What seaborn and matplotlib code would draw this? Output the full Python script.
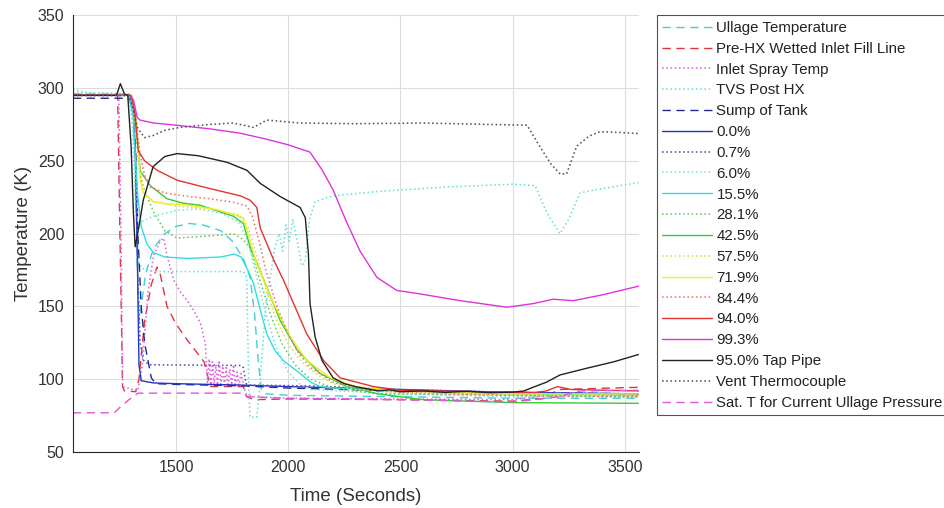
import matplotlib
matplotlib.use("Agg")
import matplotlib.pyplot as plt
import seaborn as sns

# ---- time (s) / temperature (K) traces ----
t_ullage = [1040, 1290, 1310, 1320, 1328, 1335, 1345, 1365, 1400, 1450, 1500, 1560, 1620, 1700, 1750, 1800, 1830, 1850, 1865, 1880, 1900, 2000, 2500, 3000, 3560]
T_ullage = [296, 296, 285, 240, 180, 140, 150, 173, 190, 200, 205, 207, 206, 202, 195, 183, 170, 145, 115, 93, 90, 89, 88, 87, 87]

t_prehx = [1040, 1240, 1250, 1262, 1270, 1320, 1335, 1360, 1390, 1415, 1430, 1460, 1500, 1550, 1600, 1625, 1645, 1655, 1800, 1815, 1850, 2000, 2500, 3000, 3150, 3200, 3560]
T_prehx = [295, 295, 200, 95, 92, 91.5, 100, 140, 165, 177, 172, 150, 138, 127, 117, 112, 100, 95, 95, 88, 86, 86.5, 86, 85, 87, 93, 94.5]

t_spray = [1040, 1245, 1255, 1262, 1330, 1350, 1375, 1400, 1430, 1445, 1460, 1490, 1520, 1550, 1580, 1610, 1630,
           1640, 1648, 1655, 1662, 1670, 1678, 1685, 1693, 1700, 1708, 1716, 1724, 1732, 1740, 1748, 1756, 1764, 1772, 1780, 1790,
           1810, 1850, 2000, 2500, 3000, 3150, 3200, 3250, 3560]
T_spray = [295.5, 295.5, 200, 95, 92, 110, 160, 185, 195, 197, 185, 168, 160, 154, 147, 138, 125,
           98, 114, 96, 112, 97, 110, 96, 113, 95, 109, 96, 108, 95, 107, 96, 110, 95, 105, 96, 104,
           90, 88, 87, 86.5, 86, 89, 87, 90, 89]

t_tvs = [1040, 1100, 1290, 1305, 1320, 1335, 1350, 1400, 1800, 1815, 1825, 1830, 1860, 1870, 1900, 1940, 1960, 1975, 1990, 2005, 2020, 2040, 2060, 2075, 2095, 2120, 2200, 2400, 2700, 3000, 3100, 3150, 3210, 3250, 3300, 3400, 3560]
T_tvs = [299, 297, 296, 280, 220, 180, 176, 174, 174, 170, 90, 74, 74, 90, 150, 190, 200, 188, 206, 195, 210, 195, 178, 180, 210, 222, 226, 229, 232, 234, 233, 215, 200, 210, 228, 231, 235]

t_sump = [1040, 1290, 1312, 1322, 1330, 1345, 1360, 1375, 1390, 1410, 1500, 1800, 2000, 2500, 3000, 3560]
T_sump = [293, 293, 283, 250, 200, 150, 125, 113, 101, 97, 96.5, 95.5, 94, 92, 91, 90]

t_p000 = [1040, 1290, 1310, 1320, 1328, 1335, 1345, 1400, 1500, 1800, 2000, 2500, 3000, 3560]
T_p000 = [295, 295, 285, 250, 180, 110, 99, 97.5, 97, 96, 95, 93, 91, 90]

t_p007 = [1040, 1290, 1310, 1322, 1330, 1340, 1355, 1380, 1790, 1800, 1812, 1830, 2100, 2500, 3000, 3560]
T_p007 = [295, 295, 283, 240, 170, 125, 113, 110, 109.5, 108, 97, 96, 95.5, 93, 91, 90]

t_p060 = [1040, 1290, 1310, 1330, 1345, 1400, 1500, 1600, 1700, 1780, 1820, 1860, 1900, 1950, 2000, 2050, 2100, 2500, 3000, 3560]
T_p060 = [297, 296, 270, 215, 208, 212, 216, 217, 214, 208, 195, 170, 145, 120, 105, 97, 93, 90, 88, 88]

t_p155 = [1040, 1290, 1310, 1320, 1330, 1345, 1370, 1400, 1450, 1550, 1700, 1760, 1790, 1820, 1845, 1880, 1905, 1940, 1977, 2053, 2100, 2142, 2200, 2500, 3000, 3560]
T_p155 = [295, 295, 280, 250, 225, 205, 193, 187, 184, 183, 184, 186, 184, 175, 166, 145, 131, 120, 113, 104, 98, 95, 94, 92, 90, 89]

t_p281 = [1040, 1300, 1320, 1340, 1354, 1400, 1450, 1505, 1600, 1700, 1755, 1800, 1830, 1870, 1920, 1970, 2030, 2100, 2200, 2400, 3000, 3560]
T_p281 = [295, 295, 270, 240, 232, 215, 202, 197, 198, 199, 200, 196, 190, 170, 145, 125, 110, 100, 94, 90, 89, 88]

t_p425 = [1040, 1295, 1312, 1325, 1335, 1341, 1385, 1460, 1530, 1608, 1755, 1800, 1830, 1905, 1965, 2040, 2142, 2262, 2400, 2600, 3000, 3560]
T_p425 = [295, 295, 288, 270, 252, 243, 233, 224, 221, 219.5, 212, 207, 191, 163, 140, 120, 104, 95, 90, 86, 84, 83.5]

t_p575 = [1040, 1300, 1320, 1340, 1360, 1400, 1500, 1650, 1780, 1820, 1860, 1900, 1950, 2000, 2060, 2120, 2200, 2300, 2500, 3000, 3560]
T_p575 = [295, 295, 275, 245, 228, 222, 219, 217, 213, 205, 185, 162, 140, 124, 112, 104, 97, 93, 91, 89, 89]

t_p719 = [1040, 1300, 1318, 1332, 1340, 1354, 1398, 1460, 1532, 1683, 1760, 1800, 1860, 1935, 2010, 2083, 2187, 2300, 2500, 3000, 3560]
T_p719 = [295, 295, 285, 260, 237, 228, 222, 220.5, 220, 216.5, 213, 211, 179, 152, 129, 113, 101, 95, 92, 90, 90]

t_p844 = [1040, 1300, 1320, 1340, 1360, 1385, 1450, 1532, 1650, 1755, 1816, 1840, 1870, 1900, 1950, 2000, 2050, 2100, 2200, 2300, 2500, 3000, 3560]
T_p844 = [295, 295, 280, 255, 240, 232, 228, 226, 224, 221.6, 219, 212, 195, 175, 150, 131, 117, 108, 98, 94, 91, 89, 88]

t_p940 = [1040, 1300, 1315, 1332, 1360, 1416, 1505, 1650, 1786, 1830, 1860, 1875, 1935, 1979, 2024, 2083, 2157, 2231, 2380, 2500, 3000, 3100, 3150, 3200, 3260, 3560]
T_p940 = [295, 295, 285, 257, 250, 243.5, 236.7, 231, 226, 223, 218, 204, 182, 168, 152, 131, 113, 101, 95, 92.5, 91, 91, 92, 95, 93, 92]

t_p993 = [1040, 1290, 1310, 1327, 1340, 1400, 1500, 1650, 1786, 1900, 2000, 2097, 2150, 2200, 2260, 2320, 2395, 2484, 2573, 2766, 2974, 3092, 3181, 3270, 3400, 3562]
T_p993 = [295, 295, 292, 280, 278, 276, 274.5, 272, 269, 265, 261, 256, 244, 230, 208, 188, 170, 161, 159, 154, 149.5, 152, 155, 154, 158, 164]

t_tap = [1040, 1235, 1252, 1270, 1285, 1300, 1310, 1318, 1335, 1354, 1398, 1450, 1505, 1600, 1728, 1816, 1875, 1964, 2053, 2076, 2090, 2097, 2120, 2150, 2200, 2250, 2300, 2350, 2400, 2450, 2500, 2600, 2700, 2800, 2900, 3000, 3050, 3092, 3150, 3211, 3330, 3450, 3560]
T_tap = [295, 295, 303, 296, 295, 260, 215, 191, 205, 223, 246, 253, 255, 253.5, 249, 243.5, 234.6, 225.5, 218, 211, 186, 152, 129, 113, 101, 97, 95, 93.5, 92, 92.8, 91.5, 92, 91, 91.8, 90.8, 91.2, 92, 94.6, 98, 103, 107.6, 112, 117]

t_vent = [1040, 1290, 1310, 1330, 1341, 1360, 1400, 1450, 1519, 1650, 1755, 1845, 1905, 2053, 2300, 2600, 2900, 3064, 3122, 3170, 3211, 3240, 3285, 3340, 3388, 3480, 3562]
T_vent = [295, 295, 285, 272, 270, 266, 267.5, 271, 273, 275, 276, 273, 278, 276, 275.5, 276, 275, 274.5, 259.6, 248, 241, 241, 260, 267, 270, 269.5, 268.7]

t_sat = [1040, 1225, 1252, 1290, 1310, 1330, 1800, 1820, 2000, 2500, 3000, 3100, 3200, 3300, 3560]
T_sat = [77, 77, 81, 86, 88, 90.5, 90.5, 88, 87, 86, 84.5, 86, 88, 92, 92.5]

labels = ["Ullage Temperature", "Pre-HX Wetted Inlet Fill Line", "Inlet Spray Temp", "TVS Post HX",
          "Sump of Tank", "0.0%", "0.7%", "6.0%", "15.5%", "28.1%", "42.5%", "57.5%", "71.9%",
          "84.4%", "94.0%", "99.3%", "95.0% Tap Pipe", "Vent Thermocouple",
          "Sat. T for Current Ullage Pressure"]

series = [(t_ullage, T_ullage), (t_prehx, T_prehx), (t_spray, T_spray), (t_tvs, T_tvs),
          (t_sump, T_sump), (t_p000, T_p000), (t_p007, T_p007), (t_p060, T_p060),
          (t_p155, T_p155), (t_p281, T_p281), (t_p425, T_p425), (t_p575, T_p575),
          (t_p719, T_p719), (t_p844, T_p844), (t_p940, T_p940), (t_p993, T_p993),
          (t_tap, T_tap), (t_vent, T_vent), (t_sat, T_sat)]

colors = ["#3fd0d8", "#dd3344", "#dd66dd", "#70dede", "#1f2a8a", "#2233cc", "#5555aa",
          "#80e0e0", "#33dddd", "#66cc66", "#33cc33", "#dddd55", "#eeee22", "#ee7777",
          "#e03333", "#dd33dd", "#222222", "#555555", "#e055e0"]
DASH = (0, (6, 4))
styles = [DASH, DASH, ":", ":", DASH, "-", ":", ":", "-", ":", "-", ":", "-", ":", "-", "-", "-", ":", DASH]

sns.set_style("whitegrid")
plt.rcParams["font.family"] = ["Liberation Sans", "DejaVu Sans"]

fig = plt.figure(figsize=(9.45, 5.08), dpi=100)
ax = fig.add_axes([0.077, 0.110, 0.599, 0.860])

for (tx, ty), lab, col, ls in zip(series, labels, colors, styles):
    lw = 1.15 if ls == ":" else 1.0
    sns.lineplot(x=tx, y=ty, ax=ax, color=col, linestyle=ls, linewidth=lw,
                 label=lab, sort=False, estimator=None)

ax.set_xlim(1040, 3562)
ax.set_ylim(50, 350)
ax.set_xticks([1500, 2000, 2500, 3000, 3500])
ax.set_yticks([50, 100, 150, 200, 250, 300, 350])
ax.grid(True, color="#dcdcdc", linewidth=0.8)
for s in ["top", "right"]:
    ax.spines[s].set_visible(False)
for s in ["left", "bottom"]:
    ax.spines[s].set_color("#262626")
    ax.spines[s].set_linewidth(0.8)
ax.tick_params(axis="both", direction="in", length=4, width=0.6, colors="#262626",
               labelsize=11.5, labelcolor="#333333", pad=6)
ax.set_xlabel("Time (Seconds)", fontsize=13.5, color="#333333", labelpad=9)
ax.set_ylabel("Temperature (K)", fontsize=13.5, color="#333333", labelpad=4)

leg = ax.legend(loc="upper left", bbox_to_anchor=(0.695, 0.970), bbox_transform=fig.transFigure,
                fontsize=10.8, frameon=True, fancybox=False, edgecolor="#262626",
                handlelength=3.3, handletextpad=0.3, labelspacing=0.455, borderpad=0.38,
                borderaxespad=0)
leg.get_frame().set_linewidth(0.8)
for txt in leg.get_texts():
    txt.set_color("#222222")

fig.savefig("out.png", dpi=100)
